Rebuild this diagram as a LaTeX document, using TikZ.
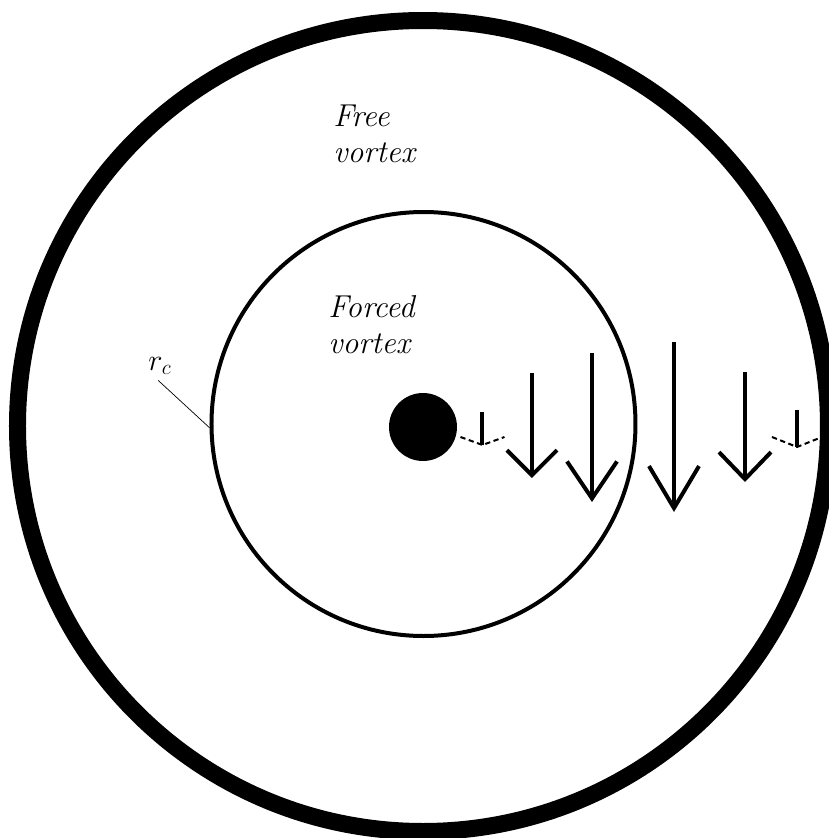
\documentclass[tikz,border=0pt]{standalone}
\usepackage{tikz}
\usetikzlibrary{arrows.meta,positioning}
\tikzset{
  vxring/.style={draw=black, circle, line width=0.34cm, inner sep=0pt, minimum size=16.22cm},
  vxcore/.style={draw=black, circle, line width=0.08cm, inner sep=0pt, minimum size=8.48cm},
  vxhub/.style={fill=black, circle, inner sep=0pt, minimum size=1.36cm},
  vxlabel/.style={font=\fontsize{18}{20.5}\selectfont\itshape, align=left, inner sep=0pt, anchor=north west},
  vxarrow/.style={line width=0.08cm},
  vxwing/.style={line width=0.04cm, densely dashed}
}

\begin{document}
\begin{tikzpicture}
  \useasboundingbox (-8.46,-8.24) rectangle (8.12,8.52);
  \clip (-8.46,-8.24) rectangle (8.12,8.52);

  \node[vxring] (outer) at (0,0) {};
  \node[vxcore] (forced) at (0.01,0.04) {};
  \node[vxhub] (hub) at (0,-0.02) {};

  \node[vxlabel] (free) at (-1.8,6.42) {Free\\vortex};
  \node[vxlabel] (forcedlbl) at (-1.9,2.62) {Forced\\vortex};

  \node[font=\fontsize{18}{20}\selectfont, inner sep=1pt] (rc) at (-5.26,1.2) {$r_c$};
  \draw[line width=0.4pt] ([xshift=-1pt,yshift=-2pt]rc.south) -- (forced.181);

  \draw[vxarrow] (1.19,0.28) -- (1.19,-0.38);
  \draw[vxwing] (0.75,-0.22) -- (1.19,-0.38) -- (1.63,-0.22);
  \draw[vxarrow,-{Straight Barb[length=5mm,width=10mm]}] (2.18,1.06) -- (2.18,-1.04);
  \draw[vxarrow,-{Straight Barb[length=7.4mm,width=10mm]}] (3.38,1.46) -- (3.38,-1.52);
  \draw[vxarrow,-{Straight Barb[length=8.4mm,width=10mm]}] (5.02,1.68) -- (5.02,-1.72);
  \draw[vxarrow,-{Straight Barb[length=5.4mm,width=10.4mm]}] (6.44,1.08) -- (6.44,-1.12);
  \draw[vxarrow] (7.48,0.32) -- (7.48,-0.42);
  \draw[vxwing] (6.98,-0.22) -- (7.48,-0.42) -- (7.98,-0.22);
\end{tikzpicture}
\end{document}
